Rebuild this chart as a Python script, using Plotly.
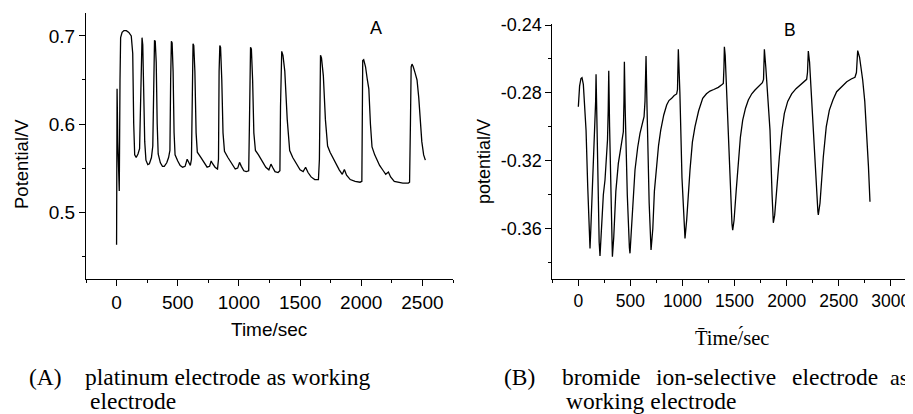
import plotly.graph_objects as go

# ---------------- Data ----------------
time_a = [0, 4, 10, 22, 28, 33, 45, 60, 80, 100, 120, 132, 140, 148, 160, 175, 188, 195, 203, 208,
          214, 222, 230, 240, 255, 268, 285, 296, 303, 310, 316, 324, 332, 340, 358, 375, 390, 410,
          425, 436, 442, 448, 454, 462, 470, 478, 500, 520, 540, 560, 577, 590, 603, 612, 618, 625,
          631, 640, 650, 660, 690, 715, 740, 760, 773, 785, 805, 825, 833, 838, 844, 850, 860, 870,
          882, 910, 940, 970, 990, 1005, 1020, 1040, 1060, 1080, 1086, 1090, 1095, 1102, 1112, 1122,
          1135, 1160, 1190, 1220, 1245, 1262, 1275, 1295, 1320, 1335, 1340, 1345, 1350, 1360, 1375,
          1395, 1415, 1440, 1465, 1500, 1525, 1545, 1565, 1590, 1620, 1650, 1658, 1662, 1667, 1675,
          1690, 1707, 1725, 1745, 1780, 1820, 1845, 1862, 1880, 1910, 1950, 1990, 2005, 2008, 2012,
          2020, 2035, 2050, 2062, 2075, 2088, 2110, 2150, 2180, 2200, 2222, 2240, 2270, 2300, 2340,
          2385, 2395, 2402, 2408, 2415, 2425, 2440, 2456, 2470, 2483, 2495, 2510, 2524]
potential_a = [0.463, 0.640, 0.580, 0.524, 0.650, 0.698, 0.704, 0.706, 0.706, 0.704, 0.700, 0.680,
               0.600, 0.565, 0.562, 0.566, 0.572, 0.620, 0.695, 0.698, 0.690, 0.640, 0.580, 0.559,
               0.554, 0.555, 0.562, 0.575, 0.660, 0.695, 0.694, 0.670, 0.600, 0.566, 0.556, 0.552,
               0.552, 0.556, 0.562, 0.570, 0.650, 0.694, 0.692, 0.660, 0.590, 0.565, 0.558, 0.553,
               0.551, 0.552, 0.560, 0.556, 0.553, 0.560, 0.660, 0.691, 0.689, 0.660, 0.590, 0.568,
               0.562, 0.556, 0.551, 0.552, 0.558, 0.555, 0.551, 0.549, 0.560, 0.660, 0.689, 0.687,
               0.650, 0.590, 0.569, 0.562, 0.555, 0.549, 0.550, 0.5565, 0.552, 0.547, 0.546, 0.547,
               0.600, 0.680, 0.687, 0.685, 0.650, 0.590, 0.570, 0.565, 0.558, 0.551, 0.548, 0.5545,
               0.551, 0.546, 0.545, 0.547, 0.620, 0.680, 0.6825, 0.678, 0.660, 0.605, 0.570, 0.562,
               0.556, 0.548, 0.546, 0.551, 0.545, 0.540, 0.537, 0.537, 0.560, 0.660, 0.678, 0.675,
               0.655, 0.605, 0.575, 0.568, 0.558, 0.548, 0.543, 0.5485, 0.542, 0.537, 0.535, 0.534,
               0.535, 0.600, 0.672, 0.673, 0.665, 0.650, 0.640, 0.600, 0.574, 0.565, 0.553, 0.547,
               0.543, 0.5455, 0.540, 0.535, 0.534, 0.533, 0.533, 0.534, 0.600, 0.665, 0.668, 0.665,
               0.658, 0.650, 0.630, 0.605, 0.580, 0.565, 0.559]

time_b = [0, 12, 25, 35, 48, 60, 74, 90, 105, 112, 120, 135, 150, 160, 166, 170, 175, 185, 200, 208,
          220, 240, 256, 270, 280, 287, 292, 300, 315, 327, 340, 360, 384, 410, 432, 438, 442, 450,
          470, 490, 496, 510, 530, 544, 570, 592, 615, 631, 640, 650, 660, 680, 698, 715, 730, 746,
          770, 791, 820, 848, 870, 896, 920, 944, 952, 960, 975, 995, 1015, 1024, 1040, 1055, 1072,
          1095, 1120, 1155, 1194, 1230, 1264, 1300, 1344, 1380, 1392, 1398, 1402, 1410, 1430, 1455,
          1475, 1482, 1495, 1515, 1536, 1556, 1578, 1605, 1632, 1665, 1696, 1730, 1767, 1778, 1786,
          1800, 1820, 1840, 1860, 1872, 1885, 1905, 1930, 1955, 1978, 2010, 2048, 2090, 2128, 2165,
          2192, 2200, 2208, 2220, 2240, 2256, 2280, 2300, 2304, 2320, 2352, 2380, 2410, 2445, 2480,
          2530, 2577, 2620, 2656, 2670, 2682, 2700, 2730, 2750, 2768, 2785, 2800]
potential_b = [-0.2881, -0.276, -0.2715, -0.271, -0.275, -0.285, -0.302, -0.335, -0.365, -0.3716,
               -0.360, -0.335, -0.318, -0.305, -0.285, -0.269, -0.290, -0.330, -0.368, -0.376,
               -0.360, -0.340, -0.3313, -0.318, -0.3077, -0.290, -0.2669, -0.300, -0.355, -0.3765,
               -0.365, -0.338, -0.3215, -0.312, -0.3029, -0.285, -0.2616, -0.290, -0.340, -0.371,
               -0.3745, -0.360, -0.338, -0.3254, -0.312, -0.3038, -0.298, -0.294, -0.285, -0.2583,
               -0.290, -0.345, -0.3725, -0.360, -0.338, -0.3254, -0.311, -0.3019, -0.293, -0.2871,
               -0.2845, -0.2832, -0.2815, -0.2806, -0.278, -0.2543, -0.280, -0.330, -0.362, -0.3657,
               -0.355, -0.338, -0.3254, -0.309, -0.2999, -0.2905, -0.2832, -0.2805, -0.2789, -0.278,
               -0.2767, -0.275, -0.2744, -0.265, -0.2528, -0.258, -0.290, -0.330, -0.357, -0.3608,
               -0.355, -0.338, -0.3215, -0.306, -0.296, -0.289, -0.2842, -0.2805, -0.2783, -0.276,
               -0.274, -0.272, -0.2543, -0.265, -0.285, -0.3019, -0.340, -0.3565, -0.352, -0.335,
               -0.3176, -0.302, -0.292, -0.285, -0.2806, -0.2775, -0.2753, -0.2735, -0.272, -0.268,
               -0.2553, -0.262, -0.285, -0.300, -0.335, -0.350, -0.3519, -0.345, -0.3176, -0.300,
               -0.2901, -0.284, -0.2793, -0.276, -0.2734, -0.2718, -0.2708, -0.268, -0.2551, -0.259,
               -0.2724, -0.285, -0.3019, -0.323, -0.3441]

yticks_b = [-0.36, -0.32, -0.28, -0.24]
yticklabels_b = ["-0.36", "-0.32", "-0.28", "-0.24"]

panel_labels = ["A", "B"]
x_title_a = "Time/sec"
y_title_a = "Potential/V"
x_title_b = "T\u0304ime/\u0301sec"
y_title_b = "potential/V"

# ---------------- Figure ----------------
W, H = 913, 414
OFF = 8  # the page body margin that the browser adds around the figure
SANS = "Liberation Sans, Arial, sans-serif"
SERIF = "Liberation Serif, Times New Roman, serif"


def px(x):
    return (x - OFF) / W


def py(y):
    return 1 - (y - OFF) / H


fig = go.Figure()
fig.add_trace(go.Scatter(x=time_a, y=potential_a, mode="lines",
                         line=dict(color="black", width=1.3), xaxis="x", yaxis="y",
                         showlegend=False, hoverinfo="skip"))
fig.add_trace(go.Scatter(x=time_b, y=potential_b, mode="lines",
                         line=dict(color="black", width=1.3), xaxis="x2", yaxis="y2",
                         showlegend=False, hoverinfo="skip"))

axis_common = dict(showline=True, linecolor="black", linewidth=1, mirror=False,
                   showgrid=False, zeroline=False, ticks="outside", ticklen=6,
                   tickwidth=1, tickcolor="black", automargin=False)

fig.update_layout(
    width=W, height=H,
    margin=dict(l=0, r=0, t=0, b=0, autoexpand=False),
    paper_bgcolor="white", plot_bgcolor="white",
    xaxis=dict(domain=[px(86), px(453)], range=[-250, 2750], anchor="y",
               tickmode="linear", tick0=0, dtick=500,
               minor=dict(dtick=250, tick0=0, ticks="outside", ticklen=3, tickcolor="black"),
               tickfont=dict(family=SANS, size=19, color="black"), **axis_common),
    yaxis=dict(domain=[py(278.7), py(13)], range=[0.4245, 0.726], anchor="x",
               tickmode="linear", tick0=0.5, dtick=0.1, tickformat=".1f",
               minor=dict(dtick=0.05, tick0=0.45, ticks="outside", ticklen=3, tickcolor="black"),
               tickfont=dict(family=SANS, size=19, color="black"), **axis_common),
    xaxis2=dict(domain=[px(552.3), px(913)], range=[-250, 3213], anchor="y2",
                tickmode="linear", tick0=0, dtick=500,
                minor=dict(dtick=250, tick0=0, ticks="outside", ticklen=3, tickcolor="black"),
                tickfont=dict(family=SANS, size=17.5, color="black"), **axis_common),
    yaxis2=dict(domain=[py(279.3), py(24)], range=[-0.3898, -0.2394], anchor="x2",
                tickmode="array", tickvals=yticks_b, ticktext=yticklabels_b,
                minor=dict(dtick=0.02, tick0=-0.38, ticks="outside", ticklen=3, tickcolor="black"),
                tickfont=dict(family=SANS, size=18, color="black"), **axis_common),
)

ann = []


def add_text(text, x, y, size, family, xanchor="center", angle=0):
    ann.append(dict(text=text, x=px(x), y=py(y), xref="paper", yref="paper",
                    xanchor=xanchor, yanchor="middle", showarrow=False, textangle=angle,
                    font=dict(family=family, size=size, color="black")))


# axis titles
add_text(x_title_a, 269, 329, 19, SANS)
add_text(y_title_a, 21, 164, 18.5, SANS, angle=-90)
add_text(x_title_b, 732, 337, 20.5, SERIF)
add_text(y_title_b, 484, 162, 18, SANS, angle=-90)
# panel labels
add_text(panel_labels[0], 376, 28, 18, SANS)
add_text(panel_labels[1], 790, 30, 17.5, SANS)
# captions
add_text("(A)", 26.7, 377, 23.5, SERIF, xanchor="left")
add_text("platinum electrode as working", 83.3, 377, 23.5, SERIF, xanchor="left")
add_text("electrode", 87.7, 401, 23.5, SERIF, xanchor="left")
add_text("(B)", 501.7, 377, 23.5, SERIF, xanchor="left")
add_text("bromide", 560, 377, 23.5, SERIF, xanchor="left")
add_text("ion-selective", 654, 377, 23.5, SERIF, xanchor="left")
add_text("electrode", 790, 377, 23.5, SERIF, xanchor="left")
add_text("as", 888, 377, 22, SERIF, xanchor="left")
add_text("working electrode", 564, 401, 23.5, SERIF, xanchor="left")

fig.update_layout(annotations=ann)
fig.write_html("out.html")
